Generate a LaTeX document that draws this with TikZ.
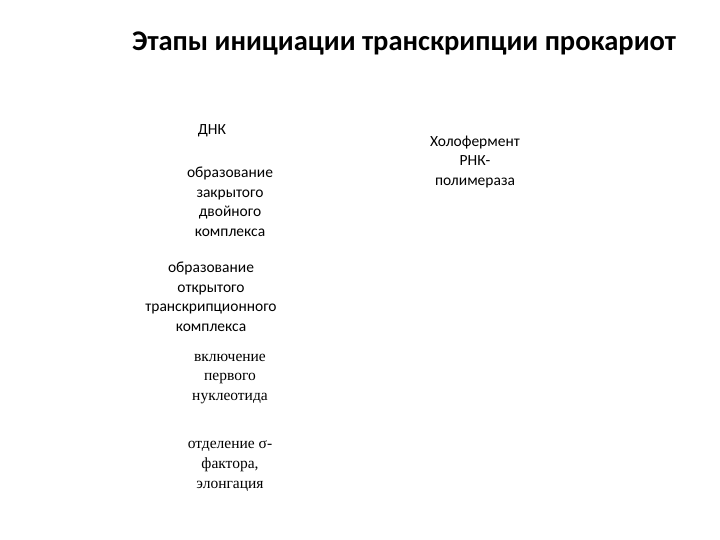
\documentclass[tikz,border=0pt]{standalone}
\usepackage{fontspec}
\setmainfont{Carlito}
\newfontfamily\serifrm{Liberation Serif}
\usetikzlibrary{positioning}

\tikzset{
	stage/.style={align=center, font=\fontsize{15.5}{19.5}\selectfont, inner sep=0pt},
	stageserif/.style={align=center, font=\serifrm\fontsize{15.5}{19.8}\selectfont, inner sep=0pt}
}

\begin{document}
\begin{tikzpicture}[x=1pt,y=-1pt]
		\useasboundingbox (0,0) rectangle (720,540);
		\node[font=\bfseries\fontsize{28.5}{32}\selectfont, inner sep=0pt] (title) at (404,43) {Этапы инициации транскрипции прокариот};
		\node[stage] (dna) at (212,131) {ДНК};
		\node[stage] (closed) at (230,202) {образование\\закрытого\\двойного\\комплекса};
		\node[stage] (open) at (211,297) {образование\\открытого\\транскрипционного\\комплекса};
		\node[stageserif] (first) at (230,379) {включение\\первого\\нуклеотида};
		\node[stageserif] (sigma) at (230,466) {отделение σ-\\фактора,\\элонгация};
		\node[stage] (holo) at (475,162) {Холофермент\\РНК-\\полимераза};
		\end{tikzpicture}
\end{document}
